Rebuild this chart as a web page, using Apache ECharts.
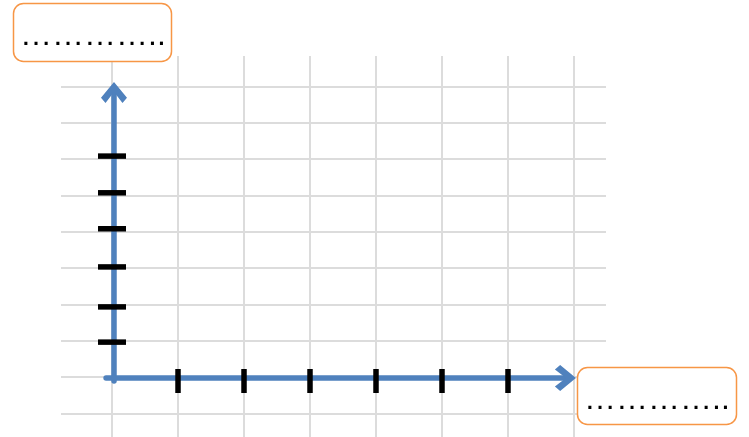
<!DOCTYPE html>
<html>
<head>
<meta charset="utf-8">
<script src="https://cdn.jsdelivr.net/npm/echarts@6/dist/echarts.min.js"></script>
<style>
html,body{margin:0;padding:0;background:#fff;}
#chart{width:749px;height:437px;}
</style>
</head>
<body>
<div id="chart"></div>
<script>
// ---- data ----
const xGridLines = [0, 1, 2, 3, 4, 5, 6, 7];
const yGridLines = [-1, 0, 1, 2, 3, 4, 5, 6, 7, 8];
const xTickMarks = [1, 2, 3, 4, 5, 6];
const yTickMarks = [6.08, 5.07, 4.08, 3.03, 1.93, 0.96];
const xRange = [-0.773, 7.485];
const yRange = [-1.651, 8.835];
const yArrow = [[0.03, -0.11], [0.03, 7.83]];
const xArrow = [[-0.09, -0.03], [6.87, -0.03]];
const xTickLevel = -0.11;
const yTickLevel = 0;
const yAxisName = '…………..';
const xAxisName = '…………..';

// ---- chart ----
const chart = echarts.init(document.getElementById('chart'), null, {renderer: 'canvas'});
const gridLineData = [];
xGridLines.forEach(v => gridLineData.push({coords: [[v, yRange[0]], [v, yRange[1]]]}));
yGridLines.forEach(v => gridLineData.push({coords: [[xRange[0], v], [xRange[1], v]]}));

const chevron = 'path://M13,0 L26,15 L21.5,20 L13,9.5 L4.5,20 L0,15 Z';
const blue = '#4f81bd';
const font = '32px "Liberation Sans"';

chart.setOption({
  backgroundColor: '#ffffff',
  animation: false,
  grid: {left: 61, top: 56, width: 545, height: 381},
  xAxis: {type: 'value', min: xRange[0], max: xRange[1], show: false},
  yAxis: {type: 'value', min: yRange[0], max: yRange[1], show: false},
  series: [
    {
      type: 'lines', coordinateSystem: 'cartesian2d', z: 1, silent: true,
      lineStyle: {color: '#dcdcdc', width: 2, opacity: 1},
      data: gridLineData
    },
    {
      type: 'lines', coordinateSystem: 'cartesian2d', z: 3, silent: true,
      symbol: ['none', chevron], symbolSize: [0, [26, 21]],
      lineStyle: {color: blue, width: 5.5, opacity: 1, cap: 'round'},
      itemStyle: {color: blue},
      data: [{coords: yArrow}, {coords: xArrow}]
    },
    {
      type: 'scatter', z: 4, silent: true,
      symbol: 'rect', symbolSize: [28, 5.5],
      itemStyle: {color: '#000', opacity: 1},
      data: yTickMarks.map(v => [yTickLevel, v])
    },
    {
      type: 'scatter', z: 4, silent: true,
      symbol: 'rect', symbolSize: [5.5, 24],
      itemStyle: {color: '#000', opacity: 1},
      data: xTickMarks.map(v => [v, xTickLevel])
    }
  ],
  graphic: [
    {type: 'rect', z: 10, shape: {x: 13.5, y: 3.5, width: 158, height: 58, r: 10},
     style: {fill: '#ffffff', stroke: '#f79646', lineWidth: 1.5}},
    {type: 'text', z: 11, x: 20, y: 36.5,
     style: {text: yAxisName, font: font, fill: '#000', align: 'left', verticalAlign: 'middle'}},
    {type: 'rect', z: 10, shape: {x: 577.5, y: 367.5, width: 159, height: 57, r: 10},
     style: {fill: '#ffffff', stroke: '#f79646', lineWidth: 1.5}},
    {type: 'text', z: 11, x: 584, y: 400.5,
     style: {text: xAxisName, font: font, fill: '#000', align: 'left', verticalAlign: 'middle'}}
  ]
});
</script>
</body>
</html>
